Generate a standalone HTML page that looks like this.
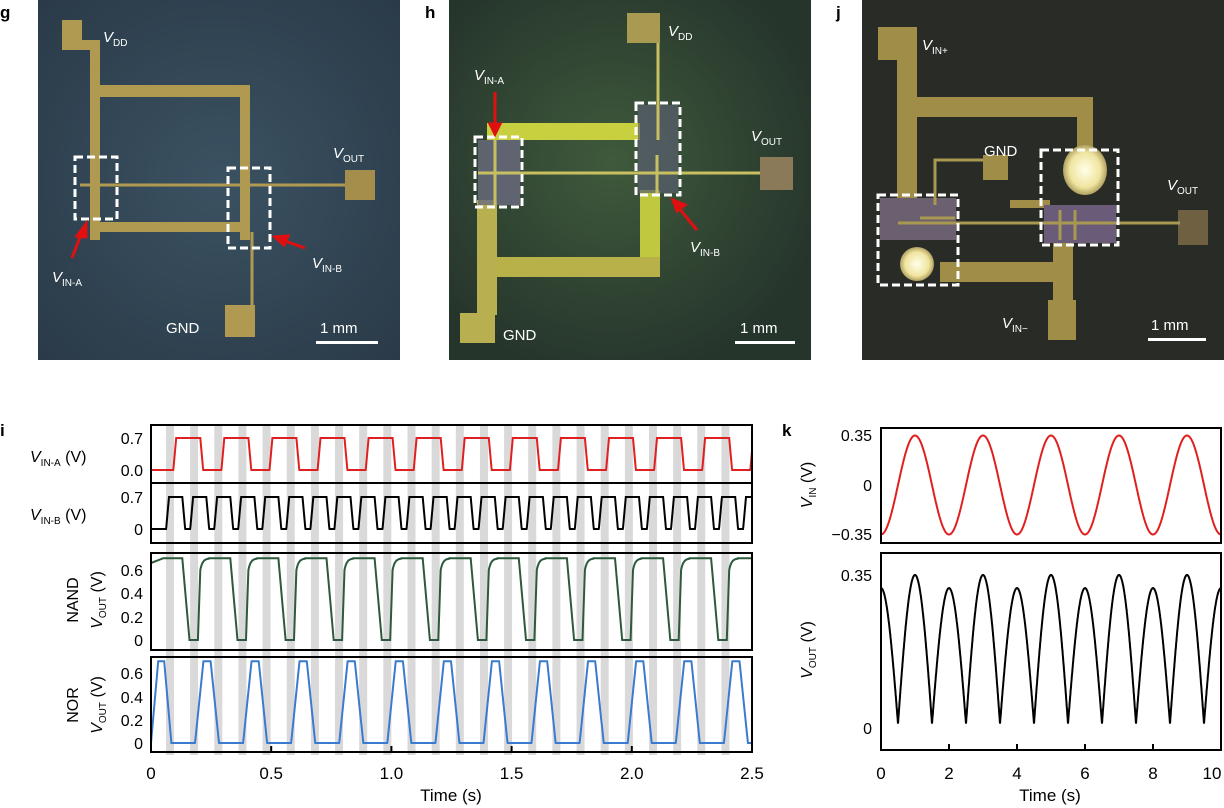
<!DOCTYPE html>
<html><head><meta charset="utf-8"><style>
html,body{margin:0;padding:0;background:#fff;}
svg{display:block;font-family:"Liberation Sans",sans-serif;}
</style></head><body>
<svg id="s" width="1224" height="808" viewBox="0 0 1224 808" xmlns="http://www.w3.org/2000/svg">
<defs>
<radialGradient id="gh" cx="0.45" cy="0.45" r="0.6"><stop offset="0" stop-color="#3f5a3c"/><stop offset="1" stop-color="#26352c"/></radialGradient>
<radialGradient id="gg" cx="0.5" cy="0.5" r="0.7"><stop offset="0" stop-color="#3b5262"/><stop offset="1" stop-color="#2a3a48"/></radialGradient>
<radialGradient id="bl" cx="0.5" cy="0.5" r="0.5"><stop offset="0" stop-color="#ffffe8"/><stop offset="0.7" stop-color="#f0e4a0"/><stop offset="1" stop-color="#b0a060"/></radialGradient>
</defs>
<g font-weight="bold" font-size="17" fill="#000">
<text x="0" y="18">g</text><text x="425" y="18">h</text><text x="836" y="18">j</text>
<text x="0" y="436">i</text><text x="782" y="436">k</text>
</g>

<rect x="38" y="0" width="362" height="360" fill="url(#gg)"/>
<g fill="#b09a52">
<rect x="62" y="20" width="20" height="30"/>
<rect x="82" y="40" width="16" height="10"/>
<rect x="90" y="40" width="10" height="200"/>
<rect x="90" y="85" width="160" height="12"/>
<rect x="240" y="85" width="10" height="155"/>
<rect x="90" y="222" width="160" height="10"/>
<rect x="345" y="170" width="30" height="30" fill="#a58e4c"/>
<rect x="225" y="305" width="30" height="32"/>
</g>
<g stroke="#b09a52" stroke-width="3"><line x1="80" y1="185" x2="345" y2="185"/><line x1="252" y1="232" x2="252" y2="310"/></g>
<g fill="none" stroke="#fff" stroke-width="3" stroke-dasharray="8,4">
<rect x="75" y="157" width="42" height="62"/><rect x="228" y="168" width="42" height="80"/>
</g>
<g stroke="#e01010" stroke-width="3" fill="#e01010"><line x1="72" y1="258" x2="82" y2="232"/><polygon points="86,224 77,236 86,237"/><line x1="305" y1="248" x2="282" y2="240"/><polygon points="275,237 288,236 284,245"/></g>
<g fill="#fff" font-size="15">
<text x="103" y="42" font-style="italic">V<tspan font-size="10" dy="4" font-style="normal">DD</tspan></text>
<text x="333" y="158" font-style="italic">V<tspan font-size="10" dy="4" font-style="normal">OUT</tspan></text>
<text x="52" y="282" font-style="italic">V<tspan font-size="10" dy="4" font-style="normal">IN-A</tspan></text>
<text x="312" y="268" font-style="italic">V<tspan font-size="10" dy="4" font-style="normal">IN-B</tspan></text>
<text x="166" y="333">GND</text>
<text x="320" y="333">1 mm</text>
</g>
<rect x="316" y="341" width="62" height="3" fill="#fff"/>

<rect x="449" y="0" width="362" height="360" fill="url(#gh)"/>
<g fill="#b8b050">
<rect x="627" y="13" width="33" height="30" fill="#a89a50"/>
<rect x="487" y="123" width="153" height="17" fill="#c8d040"/>
<rect x="640" y="190" width="20" height="80" fill="#c0c840"/>
<rect x="495" y="257" width="165" height="20" fill="#b8b048"/>
<rect x="477" y="200" width="20" height="115"/>
<rect x="460" y="313" width="35" height="30"/>
<rect x="760" y="157" width="33" height="33" fill="#8a7a5a"/>
<rect x="478" y="140" width="42" height="65" fill="#6a6c80" opacity="0.8"/>
<rect x="638" y="105" width="40" height="88" fill="#5a6070" opacity="0.7"/>
</g>
<g stroke="#c8c060" stroke-width="3"><line x1="658" y1="43" x2="658" y2="140"/><line x1="478" y1="173" x2="760" y2="173"/><line x1="495" y1="140" x2="495" y2="205"/><line x1="657" y1="155" x2="657" y2="195"/></g>
<g fill="none" stroke="#fff" stroke-width="3" stroke-dasharray="8,4">
<rect x="475" y="137" width="47" height="70"/><rect x="636" y="103" width="44" height="92"/>
</g>
<g stroke="#e01010" stroke-width="3" fill="#e01010"><line x1="495" y1="92" x2="495" y2="126"/><polygon points="490,124 500,124 495,134"/><line x1="697" y1="230" x2="678" y2="207"/><polygon points="673,200 685,205 677,211"/></g>
<g fill="#fff" font-size="15">
<text x="668" y="36" font-style="italic">V<tspan font-size="10" dy="4" font-style="normal">DD</tspan></text>
<text x="474" y="80" font-style="italic">V<tspan font-size="10" dy="4" font-style="normal">IN-A</tspan></text>
<text x="751" y="141" font-style="italic">V<tspan font-size="10" dy="4" font-style="normal">OUT</tspan></text>
<text x="690" y="252" font-style="italic">V<tspan font-size="10" dy="4" font-style="normal">IN-B</tspan></text>
<text x="503" y="340">GND</text>
<text x="740" y="333">1 mm</text>
</g>
<rect x="735" y="341" width="60" height="3" fill="#fff"/>

<rect x="862" y="0" width="362" height="360" fill="#292b27"/>
<g fill="#a08e48">
<rect x="878" y="27" width="37" height="33"/>
<rect x="897" y="27" width="20" height="175"/>
<rect x="897" y="97" width="190" height="20"/>
<rect x="1077" y="97" width="16" height="55"/>
<rect x="983" y="155" width="25" height="25"/>
<rect x="940" y="262" width="133" height="20"/>
<rect x="1053" y="230" width="20" height="75"/>
<rect x="1048" y="300" width="28" height="40"/>
<rect x="1010" y="200" width="40" height="8"/>
<rect x="1178" y="210" width="30" height="35" fill="#6e6040"/>
<rect x="880" y="198" width="76" height="42" fill="#6a6070"/>
<rect x="1044" y="205" width="72" height="38" fill="#6a5c78"/>
</g>
<g stroke="#a89850" stroke-width="3" fill="none"><line x1="898" y1="223" x2="1180" y2="223"/><polyline points="935,205 935,160 983,160"/><line x1="920" y1="218" x2="955" y2="218"/><line x1="1060" y1="210" x2="1060" y2="240"/><line x1="1075" y1="210" x2="1075" y2="240"/></g>
<ellipse cx="1085" cy="170" rx="22" ry="25" fill="url(#bl)"/>
<ellipse cx="917" cy="264" rx="17" ry="17" fill="url(#bl)"/>
<g fill="none" stroke="#fff" stroke-width="3" stroke-dasharray="8,4">
<rect x="878" y="195" width="80" height="90"/><rect x="1041" y="150" width="77" height="95"/>
</g>
<g fill="#fff" font-size="15">
<text x="922" y="50" font-style="italic">V<tspan font-size="10" dy="4" font-style="normal">IN+</tspan></text>
<text x="984" y="156">GND</text>
<text x="1167" y="190" font-style="italic">V<tspan font-size="10" dy="4" font-style="normal">OUT</tspan></text>
<text x="1002" y="328" font-style="italic">V<tspan font-size="10" dy="4" font-style="normal">IN−</tspan></text>
<text x="1151" y="330">1 mm</text>
</g>
<rect x="1148" y="338" width="58" height="3" fill="#fff"/>

<g id="plots"></g>
</svg>
<script>
const NS="http://www.w3.org/2000/svg",P=document.getElementById('plots');
function el(t,a,txt){const e=document.createElementNS(NS,t);for(const k in a)e.setAttribute(k,a[k]);if(txt!==undefined)e.innerHTML=txt;P.appendChild(e);return e;}
const X0=151,X1=752,sx=t=>X0+t*(X1-X0)/2.5;
for(let k=0;k<25;k++){const x=166+24.15*k;if(x+8<X1)el('rect',{x:x,y:425,width:8,height:330,fill:'#d9d9d9'});}
function trap(t,period,t0,rise,high,fall){let p=((t-t0)%period+period)%period;if(p<rise)return p/rise;if(p<rise+high)return 1;if(p<rise+high+fall)return 1-(p-rise-high)/fall;return 0;}
function path(f,N,c,w){let d='';for(let i=0;i<=N;i++){const t=2.5*i/N;const [x,y]=f(t);d+=(i?'L':'M')+x.toFixed(1)+','+y.toFixed(1);}el('path',{d:d,fill:'none',stroke:c,'stroke-width':w||2});}
path(t=>[sx(t),470-32*(t<0.08?0:trap(t,0.2,0.093,0.012,0.1,0.012))],2000,'#e02020');
path(t=>[sx(t),529-32*(t<0.05?0:trap(t,0.1,0.063,0.012,0.055,0.012))],2000,'#000');
path(t=>{let p=((t-0.13)%0.2+0.2)%0.2;let v;if(p<0.03)v=0.7-0.7*p/0.03;else if(p<0.065)v=0;else if(p<0.075)v=0.6*(p-0.065)/0.01;else if(p<0.11)v=0.6+0.1*(1-Math.exp(-(p-0.075)/0.01));else v=0.7; if(t<0.05)v=0.66+0.04*t/0.05; return [sx(t),640-v/0.6*70];},3000,'#2d5a3c');
path(t=>{let v=trap(t,0.2,0.183,0.035,0.03,0.035)*0.7;if(t<0.03)v=0.7*t/0.03;if(t<0.055&&t>=0.03)v=0.7;if(t>=0.055&&t<0.085)v=0.7*(1-(t-0.055)/0.03);return [sx(t),743-v/0.6*70];},3000,'#3a7ad0');
[[425,483],[483,543],[553,650],[657,752]].forEach(r=>el('rect',{x:X0,y:r[0],width:X1-X0,height:r[1]-r[0],fill:'none',stroke:'#000','stroke-width':2}));
const tk=(x,y,s,a)=>el('text',Object.assign({x:x,y:y,'font-size':16,'text-anchor':'end'},a||{}),s);
tk(143,444,'0.7');tk(143,476,'0.0');tk(143,503,'0.7');tk(143,535,'0');
[[570,'0.6'],[593,'0.4'],[617,'0.2'],[640,'0']].forEach(a=>tk(143,a[0]+6,a[1]));
[[673,'0.6'],[697,'0.4'],[720,'0.2'],[743,'0']].forEach(a=>tk(143,a[0]+6,a[1]));
el('text',{x:30,y:462,'font-size':16},'<tspan font-style="italic">V</tspan><tspan font-size="10" dy="4">IN-A</tspan><tspan dy="-4"> (V)</tspan>');
el('text',{x:30,y:520,'font-size':16},'<tspan font-style="italic">V</tspan><tspan font-size="10" dy="4">IN-B</tspan><tspan dy="-4"> (V)</tspan>');
el('text',{transform:'translate(78,600) rotate(-90)','font-size':16,'text-anchor':'middle'},'NAND');
el('text',{transform:'translate(102,600) rotate(-90)','font-size':16,'text-anchor':'middle'},'<tspan font-style="italic">V</tspan><tspan font-size="10" dy="4">OUT</tspan><tspan dy="-4"> (V)</tspan>');
el('text',{transform:'translate(78,705) rotate(-90)','font-size':16,'text-anchor':'middle'},'NOR');
el('text',{transform:'translate(102,705) rotate(-90)','font-size':16,'text-anchor':'middle'},'<tspan font-style="italic">V</tspan><tspan font-size="10" dy="4">OUT</tspan><tspan dy="-4"> (V)</tspan>');
['0','0.5','1.0','1.5','2.0','2.5'].forEach((s,i)=>{const x=sx(i*0.5);el('text',{x:x,y:779,'font-size':17,'text-anchor':'middle'},s);el('line',{x1:x,y1:752,x2:x,y2:746,stroke:'#000','stroke-width':2});});
el('text',{x:451,y:801,'font-size':17,'text-anchor':'middle'},'Time (s)');
const K0=881,K1=1221,kx=t=>K0+t*(K1-K0)/10;
function kpath(f,c){let d='';for(let i=0;i<=2000;i++){const t=10*i/2000;const [x,y]=f(t);d+=(i?'L':'M')+x.toFixed(1)+','+y.toFixed(1);}el('path',{d:d,fill:'none',stroke:c,'stroke-width':2});}
kpath(t=>[kx(t),485+49.5*Math.cos(Math.PI*t)],'#e02020');
kpath(t=>{const n=Math.round(t);const amp=(n%2===1)?0.35:0.32;const v=0.01+(amp-0.01)*Math.abs(Math.cos(Math.PI*t));return [kx(t),728-v/0.35*153];},'#000');
el('rect',{x:K0,y:428,width:K1-K0,height:115,fill:'none',stroke:'#000','stroke-width':2});
el('rect',{x:K0,y:553,width:K1-K0,height:197,fill:'none',stroke:'#000','stroke-width':2});
tk(872,441,'0.35');tk(872,491,'0');tk(872,540,'−0.35');tk(872,581,'0.35');tk(872,734,'0');
['0','2','4','6','8','10'].forEach((s,i)=>{const x=kx(i*2);el('text',{x:Math.min(x,1212),y:779,'font-size':17,'text-anchor':'middle'},s);el('line',{x1:x,y1:750,x2:x,y2:744,stroke:'#000','stroke-width':2});});
el('text',{x:1050,y:801,'font-size':17,'text-anchor':'middle'},'Time (s)');
el('text',{transform:'translate(812,485) rotate(-90)','font-size':16,'text-anchor':'middle'},'<tspan font-style="italic">V</tspan><tspan font-size="10" dy="4">IN</tspan><tspan dy="-4"> (V)</tspan>');
el('text',{transform:'translate(812,650) rotate(-90)','font-size':16,'text-anchor':'middle'},'<tspan font-style="italic">V</tspan><tspan font-size="10" dy="4">OUT</tspan><tspan dy="-4"> (V)</tspan>');
</script>
</body></html>
